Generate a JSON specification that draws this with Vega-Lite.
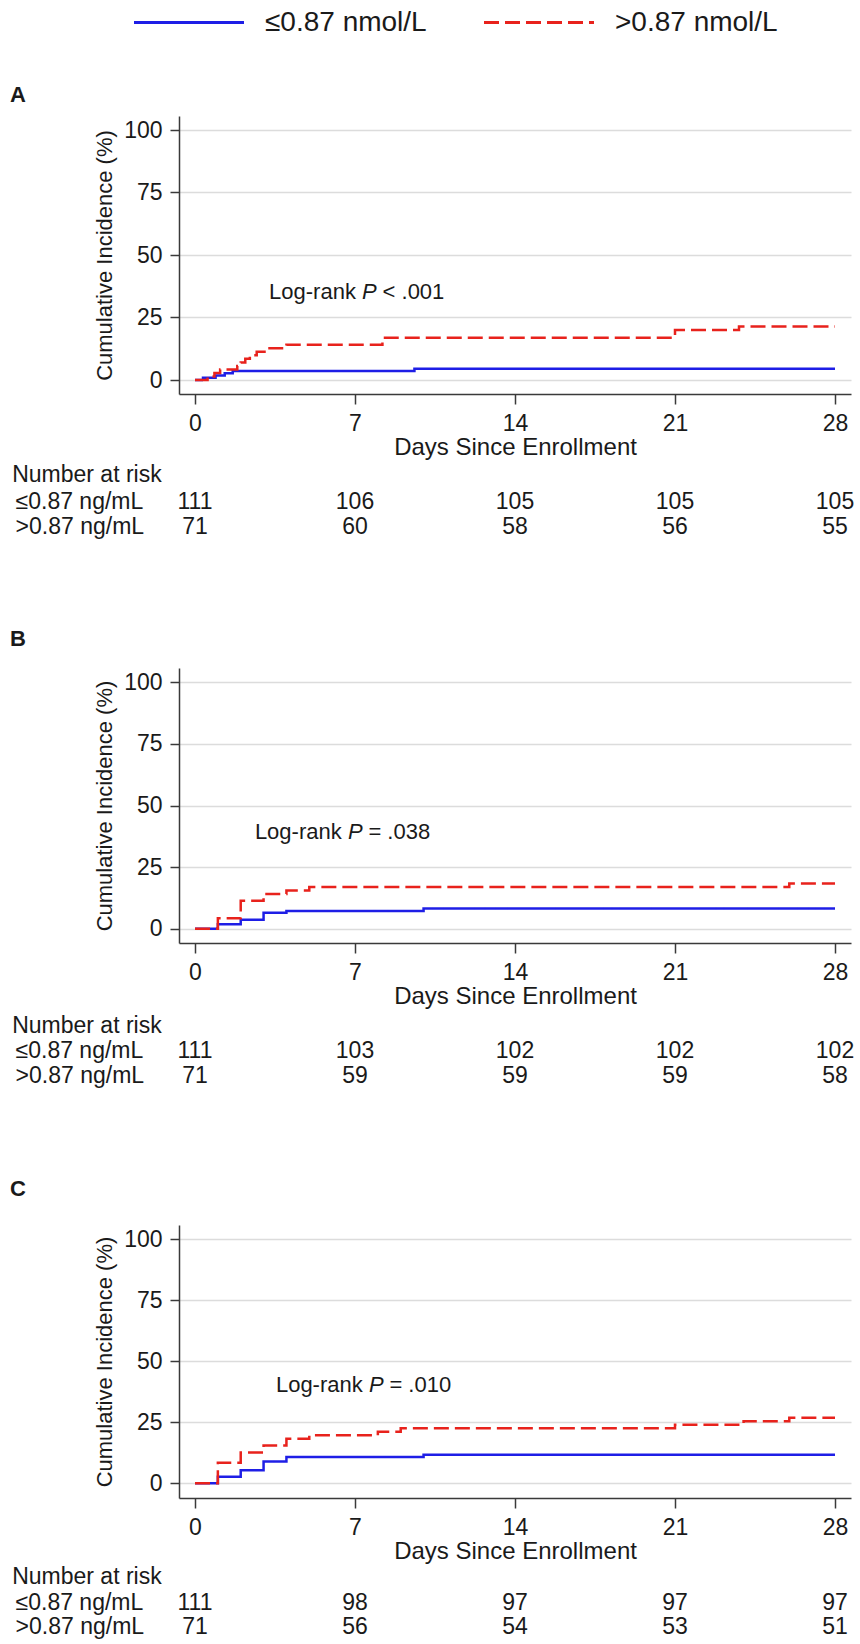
{
  "$schema": "https://vega.github.io/schema/vega-lite/v6.json",
  "padding": {"left": 10, "top": 8, "right": 0, "bottom": 0},
  "background": "white",
  "config": {
    "font": "Liberation Sans",
    "view": {"stroke": null},
    "axis": {
      "domainColor": "#3a3a3a", "domainWidth": 1.5,
      "tickColor": "#3a3a3a", "tickWidth": 1.5,
      "labelColor": "#1a1a1a", "titleColor": "#1a1a1a",
      "labelFont": "Liberation Sans", "titleFont": "Liberation Sans",
      "labelFontSize": 23, "titleFontSize": 23, "titleFontWeight": "normal"
    },
    "text": {"color": "#1a1a1a", "font": "Liberation Sans"}
  },
  "datasets": {
    "km": [
      {"panel": "A", "grp": "≤0.87 nmol/L", "t": 0, "v": 0},
      {"panel": "A", "grp": "≤0.87 nmol/L", "t": 0.35, "v": 0.9},
      {"panel": "A", "grp": "≤0.87 nmol/L", "t": 0.9, "v": 1.8},
      {"panel": "A", "grp": "≤0.87 nmol/L", "t": 1.3, "v": 2.7},
      {"panel": "A", "grp": "≤0.87 nmol/L", "t": 1.65, "v": 3.6},
      {"panel": "A", "grp": "≤0.87 nmol/L", "t": 9.6, "v": 4.5},
      {"panel": "A", "grp": "≤0.87 nmol/L", "t": 28, "v": 4.5},
      {"panel": "A", "grp": ">0.87 nmol/L", "t": 0, "v": 0},
      {"panel": "A", "grp": ">0.87 nmol/L", "t": 0.55, "v": 1.4},
      {"panel": "A", "grp": ">0.87 nmol/L", "t": 0.85, "v": 2.8},
      {"panel": "A", "grp": ">0.87 nmol/L", "t": 1.1, "v": 4.2},
      {"panel": "A", "grp": ">0.87 nmol/L", "t": 1.85, "v": 5.6},
      {"panel": "A", "grp": ">0.87 nmol/L", "t": 2.0, "v": 7.0},
      {"panel": "A", "grp": ">0.87 nmol/L", "t": 2.2, "v": 8.5},
      {"panel": "A", "grp": ">0.87 nmol/L", "t": 2.4, "v": 9.9},
      {"panel": "A", "grp": ">0.87 nmol/L", "t": 2.7, "v": 11.3},
      {"panel": "A", "grp": ">0.87 nmol/L", "t": 3.1, "v": 12.7},
      {"panel": "A", "grp": ">0.87 nmol/L", "t": 4.0, "v": 14.1},
      {"panel": "A", "grp": ">0.87 nmol/L", "t": 8.2, "v": 16.9},
      {"panel": "A", "grp": ">0.87 nmol/L", "t": 21.0, "v": 20.0},
      {"panel": "A", "grp": ">0.87 nmol/L", "t": 23.8, "v": 21.4},
      {"panel": "A", "grp": ">0.87 nmol/L", "t": 28, "v": 21.4},
      {"panel": "B", "grp": "≤0.87 nmol/L", "t": 0, "v": 0},
      {"panel": "B", "grp": "≤0.87 nmol/L", "t": 1, "v": 1.8},
      {"panel": "B", "grp": "≤0.87 nmol/L", "t": 2, "v": 3.6},
      {"panel": "B", "grp": "≤0.87 nmol/L", "t": 3, "v": 6.5},
      {"panel": "B", "grp": "≤0.87 nmol/L", "t": 4, "v": 7.2},
      {"panel": "B", "grp": "≤0.87 nmol/L", "t": 10, "v": 8.2},
      {"panel": "B", "grp": "≤0.87 nmol/L", "t": 28, "v": 8.2},
      {"panel": "B", "grp": ">0.87 nmol/L", "t": 0, "v": 0},
      {"panel": "B", "grp": ">0.87 nmol/L", "t": 1, "v": 4.2},
      {"panel": "B", "grp": ">0.87 nmol/L", "t": 2, "v": 11.3},
      {"panel": "B", "grp": ">0.87 nmol/L", "t": 3, "v": 14.1},
      {"panel": "B", "grp": ">0.87 nmol/L", "t": 4, "v": 15.5},
      {"panel": "B", "grp": ">0.87 nmol/L", "t": 5, "v": 16.9},
      {"panel": "B", "grp": ">0.87 nmol/L", "t": 26, "v": 18.3},
      {"panel": "B", "grp": ">0.87 nmol/L", "t": 28, "v": 18.3},
      {"panel": "C", "grp": "≤0.87 nmol/L", "t": 0, "v": 0},
      {"panel": "C", "grp": "≤0.87 nmol/L", "t": 1, "v": 2.7},
      {"panel": "C", "grp": "≤0.87 nmol/L", "t": 2, "v": 5.4},
      {"panel": "C", "grp": "≤0.87 nmol/L", "t": 3, "v": 9.0},
      {"panel": "C", "grp": "≤0.87 nmol/L", "t": 4, "v": 10.8},
      {"panel": "C", "grp": "≤0.87 nmol/L", "t": 10, "v": 11.7},
      {"panel": "C", "grp": "≤0.87 nmol/L", "t": 28, "v": 11.7},
      {"panel": "C", "grp": ">0.87 nmol/L", "t": 0, "v": 0},
      {"panel": "C", "grp": ">0.87 nmol/L", "t": 1, "v": 8.5},
      {"panel": "C", "grp": ">0.87 nmol/L", "t": 2, "v": 12.7},
      {"panel": "C", "grp": ">0.87 nmol/L", "t": 3, "v": 15.5},
      {"panel": "C", "grp": ">0.87 nmol/L", "t": 4, "v": 18.3},
      {"panel": "C", "grp": ">0.87 nmol/L", "t": 5, "v": 19.7},
      {"panel": "C", "grp": ">0.87 nmol/L", "t": 8, "v": 21.2},
      {"panel": "C", "grp": ">0.87 nmol/L", "t": 9, "v": 22.6},
      {"panel": "C", "grp": ">0.87 nmol/L", "t": 21, "v": 24.0},
      {"panel": "C", "grp": ">0.87 nmol/L", "t": 24, "v": 25.5},
      {"panel": "C", "grp": ">0.87 nmol/L", "t": 26, "v": 26.9},
      {"panel": "C", "grp": ">0.87 nmol/L", "t": 28, "v": 26.9}
    ],
    "risk": [
      {"panel": "A", "row": 1, "t": 0, "n": 111}, {"panel": "A", "row": 1, "t": 7, "n": 106}, {"panel": "A", "row": 1, "t": 14, "n": 105}, {"panel": "A", "row": 1, "t": 21, "n": 105}, {"panel": "A", "row": 1, "t": 28, "n": 105},
      {"panel": "A", "row": 2, "t": 0, "n": 71}, {"panel": "A", "row": 2, "t": 7, "n": 60}, {"panel": "A", "row": 2, "t": 14, "n": 58}, {"panel": "A", "row": 2, "t": 21, "n": 56}, {"panel": "A", "row": 2, "t": 28, "n": 55},
      {"panel": "B", "row": 1, "t": 0, "n": 111}, {"panel": "B", "row": 1, "t": 7, "n": 103}, {"panel": "B", "row": 1, "t": 14, "n": 102}, {"panel": "B", "row": 1, "t": 21, "n": 102}, {"panel": "B", "row": 1, "t": 28, "n": 102},
      {"panel": "B", "row": 2, "t": 0, "n": 71}, {"panel": "B", "row": 2, "t": 7, "n": 59}, {"panel": "B", "row": 2, "t": 14, "n": 59}, {"panel": "B", "row": 2, "t": 21, "n": 59}, {"panel": "B", "row": 2, "t": 28, "n": 58},
      {"panel": "C", "row": 1, "t": 0, "n": 111}, {"panel": "C", "row": 1, "t": 7, "n": 98}, {"panel": "C", "row": 1, "t": 14, "n": 97}, {"panel": "C", "row": 1, "t": 21, "n": 97}, {"panel": "C", "row": 1, "t": 28, "n": 97},
      {"panel": "C", "row": 2, "t": 0, "n": 71}, {"panel": "C", "row": 2, "t": 7, "n": 56}, {"panel": "C", "row": 2, "t": 14, "n": 54}, {"panel": "C", "row": 2, "t": 21, "n": 53}, {"panel": "C", "row": 2, "t": 28, "n": 51}
    ],
    "notes": [
      {"panel": "A", "letter": "A", "stat": "< .001"},
      {"panel": "B", "letter": "B", "stat": "= .038"},
      {"panel": "C", "letter": "C", "stat": "= .010"}
    ]
  },
  "resolve": {"legend": {"color": "independent", "strokeDash": "independent"}},
  "spacing": 88,
  "vconcat": [
    {
      "width": 672, "height": 278,
      "layer": [
        {
          "data": {"name": "km"}, "transform": [{"filter": "datum.panel === 'A'"}],
          "mark": {"type": "line", "interpolate": "step-after", "strokeWidth": 2.5},
          "encoding": {
            "x": {"field": "t", "type": "quantitative", "scale": {"domain": [-0.7, 28.7], "nice": false, "zero": false},
                  "axis": {"values": [0, 7, 14, 21, 28], "grid": false, "tickSize": 10, "labelPadding": 8, "titlePadding": 0, "title": "Days Since Enrollment", "titleFontSize": 24, "labelFlush": false}},
            "y": {"field": "v", "type": "quantitative", "scale": {"domain": [-5.6, 105.6], "nice": false, "zero": false},
                  "axis": {"values": [0, 25, 50, 75, 100], "grid": true, "gridColor": "#dcdcdc", "gridWidth": 1.5, "tickSize": 9, "labelPadding": 8, "titlePadding": 7, "title": "Cumulative Incidence (%)", "titleFontSize": 22}},
            "color": {"field": "grp", "type": "nominal", "scale": {"domain": ["≤0.87 nmol/L", ">0.87 nmol/L"], "range": ["#1e1ee6", "#e8221c"]},
                      "legend": {"orient": "none", "legendX": -4, "legendY": -107.5, "direction": "horizontal", "title": null, "symbolType": "M-5,0H5", "symbolSize": 484, "symbolStrokeWidth": 3, "labelFontSize": 28, "labelOffset": 62, "columnPadding": 51, "labelLimit": 400, "padding": 0, "labelColor": "#1a1a1a", "labelFont": "Liberation Sans"}},
            "strokeDash": {"field": "grp", "type": "nominal", "scale": {"domain": ["≤0.87 nmol/L", ">0.87 nmol/L"], "range": [[1, 0], [15, 6]]},
                      "legend": {"orient": "none", "legendX": -4, "legendY": -107.5, "direction": "horizontal", "title": null, "symbolType": "M-5,0H5", "symbolSize": 484, "symbolStrokeWidth": 3, "labelFontSize": 28, "labelOffset": 62, "columnPadding": 51, "labelLimit": 400, "padding": 0, "labelColor": "#1a1a1a", "labelFont": "Liberation Sans"}}
          }
        },
        {"data": {"name": "notes"}, "transform": [{"filter": "datum.panel === 'A'"}], "mark": {"type": "text", "fontWeight": "bold", "fontSize": 22, "align": "left", "baseline": "middle"}, "encoding": {"x": {"datum": -8.09}, "y": {"datum": 114}, "text": {"field": "letter"}}},
        {"data": {"name": "notes"}, "transform": [{"filter": "datum.panel === 'A'"}], "mark": {"type": "text", "text": "Log-rank", "fontSize": 22, "align": "left", "baseline": "middle"}, "encoding": {"x": {"datum": 3.24}, "y": {"datum": 35.2}}},
        {"data": {"name": "notes"}, "transform": [{"filter": "datum.panel === 'A'"}], "mark": {"type": "text", "text": "P", "fontStyle": "italic", "fontSize": 22, "align": "left", "baseline": "middle", "dx": 93}, "encoding": {"x": {"datum": 3.24}, "y": {"datum": 35.2}}},
        {"data": {"name": "notes"}, "transform": [{"filter": "datum.panel === 'A'"}], "mark": {"type": "text", "fontSize": 22, "align": "left", "baseline": "middle", "dx": 113.5}, "encoding": {"x": {"datum": 3.24}, "y": {"datum": 35.2}, "text": {"field": "stat"}}},
        {"data": {"name": "notes"}, "transform": [{"filter": "datum.panel === 'A'"}], "mark": {"type": "text", "text": "Number at risk", "fontSize": 23, "align": "left", "baseline": "middle"}, "encoding": {"x": {"datum": -8.0}, "y": {"datum": -38.0}}},
        {"data": {"name": "notes"}, "transform": [{"filter": "datum.panel === 'A'"}], "mark": {"type": "text", "text": "≤0.87 ng/mL", "fontSize": 23, "align": "left", "baseline": "middle"}, "encoding": {"x": {"datum": -7.85}, "y": {"datum": -48.8}}},
        {"data": {"name": "notes"}, "transform": [{"filter": "datum.panel === 'A'"}], "mark": {"type": "text", "text": ">0.87 ng/mL", "fontSize": 23, "align": "left", "baseline": "middle"}, "encoding": {"x": {"datum": -7.85}, "y": {"datum": -58.8}}},
        {"data": {"name": "risk"}, "transform": [{"filter": "datum.panel === 'A' && datum.row === 1"}], "mark": {"type": "text", "fontSize": 23, "align": "center", "baseline": "middle"}, "encoding": {"x": {"field": "t", "type": "quantitative"}, "y": {"datum": -48.8}, "text": {"field": "n"}}},
        {"data": {"name": "risk"}, "transform": [{"filter": "datum.panel === 'A' && datum.row === 2"}], "mark": {"type": "text", "fontSize": 23, "align": "center", "baseline": "middle"}, "encoding": {"x": {"field": "t", "type": "quantitative"}, "y": {"datum": -58.8}, "text": {"field": "n"}}}
      ]
    },
    {
      "width": 672, "height": 275,
      "layer": [
        {
          "data": {"name": "km"}, "transform": [{"filter": "datum.panel === 'B'"}],
          "mark": {"type": "line", "interpolate": "step-after", "strokeWidth": 2.5},
          "encoding": {
            "x": {"field": "t", "type": "quantitative", "scale": {"domain": [-0.7, 28.7], "nice": false, "zero": false},
                  "axis": {"values": [0, 7, 14, 21, 28], "grid": false, "tickSize": 10, "labelPadding": 8, "titlePadding": 0, "title": "Days Since Enrollment", "titleFontSize": 24, "labelFlush": false}},
            "y": {"field": "v", "type": "quantitative", "scale": {"domain": [-5.8, 105.8], "nice": false, "zero": false},
                  "axis": {"values": [0, 25, 50, 75, 100], "grid": true, "gridColor": "#dcdcdc", "gridWidth": 1.5, "tickSize": 9, "labelPadding": 8, "titlePadding": 7, "title": "Cumulative Incidence (%)", "titleFontSize": 22}},
            "color": {"field": "grp", "type": "nominal", "scale": {"domain": ["≤0.87 nmol/L", ">0.87 nmol/L"], "range": ["#1e1ee6", "#e8221c"]}, "legend": null},
            "strokeDash": {"field": "grp", "type": "nominal", "scale": {"domain": ["≤0.87 nmol/L", ">0.87 nmol/L"], "range": [[1, 0], [15, 6]]}, "legend": null}
          }
        },
        {"data": {"name": "notes"}, "transform": [{"filter": "datum.panel === 'B'"}], "mark": {"type": "text", "fontWeight": "bold", "fontSize": 22, "align": "left", "baseline": "middle"}, "encoding": {"x": {"datum": -8.09}, "y": {"datum": 117.4}, "text": {"field": "letter"}}},
        {"data": {"name": "notes"}, "transform": [{"filter": "datum.panel === 'B'"}], "mark": {"type": "text", "text": "Log-rank", "fontSize": 22, "align": "left", "baseline": "middle"}, "encoding": {"x": {"datum": 2.62}, "y": {"datum": 39.2}}},
        {"data": {"name": "notes"}, "transform": [{"filter": "datum.panel === 'B'"}], "mark": {"type": "text", "text": "P", "fontStyle": "italic", "fontSize": 22, "align": "left", "baseline": "middle", "dx": 93}, "encoding": {"x": {"datum": 2.62}, "y": {"datum": 39.2}}},
        {"data": {"name": "notes"}, "transform": [{"filter": "datum.panel === 'B'"}], "mark": {"type": "text", "fontSize": 22, "align": "left", "baseline": "middle", "dx": 113.5}, "encoding": {"x": {"datum": 2.62}, "y": {"datum": 39.2}, "text": {"field": "stat"}}},
        {"data": {"name": "notes"}, "transform": [{"filter": "datum.panel === 'B'"}], "mark": {"type": "text", "text": "Number at risk", "fontSize": 23, "align": "left", "baseline": "middle"}, "encoding": {"x": {"datum": -8.0}, "y": {"datum": -39.5}}},
        {"data": {"name": "notes"}, "transform": [{"filter": "datum.panel === 'B'"}], "mark": {"type": "text", "text": "≤0.87 ng/mL", "fontSize": 23, "align": "left", "baseline": "middle"}, "encoding": {"x": {"datum": -7.85}, "y": {"datum": -49.7}}},
        {"data": {"name": "notes"}, "transform": [{"filter": "datum.panel === 'B'"}], "mark": {"type": "text", "text": ">0.87 ng/mL", "fontSize": 23, "align": "left", "baseline": "middle"}, "encoding": {"x": {"datum": -7.85}, "y": {"datum": -59.8}}},
        {"data": {"name": "risk"}, "transform": [{"filter": "datum.panel === 'B' && datum.row === 1"}], "mark": {"type": "text", "fontSize": 23, "align": "center", "baseline": "middle"}, "encoding": {"x": {"field": "t", "type": "quantitative"}, "y": {"datum": -49.7}, "text": {"field": "n"}}},
        {"data": {"name": "risk"}, "transform": [{"filter": "datum.panel === 'B' && datum.row === 2"}], "mark": {"type": "text", "fontSize": 23, "align": "center", "baseline": "middle"}, "encoding": {"x": {"field": "t", "type": "quantitative"}, "y": {"datum": -59.8}, "text": {"field": "n"}}}
      ]
    },
    {
      "width": 672, "height": 273,
      "layer": [
        {
          "data": {"name": "km"}, "transform": [{"filter": "datum.panel === 'C'"}],
          "mark": {"type": "line", "interpolate": "step-after", "strokeWidth": 2.5},
          "encoding": {
            "x": {"field": "t", "type": "quantitative", "scale": {"domain": [-0.7, 28.7], "nice": false, "zero": false},
                  "axis": {"values": [0, 7, 14, 21, 28], "grid": false, "tickSize": 10, "labelPadding": 8, "titlePadding": 0, "title": "Days Since Enrollment", "titleFontSize": 24, "labelFlush": false}},
            "y": {"field": "v", "type": "quantitative", "scale": {"domain": [-6.0, 105.9], "nice": false, "zero": false},
                  "axis": {"values": [0, 25, 50, 75, 100], "grid": true, "gridColor": "#dcdcdc", "gridWidth": 1.5, "tickSize": 9, "labelPadding": 8, "titlePadding": 7, "title": "Cumulative Incidence (%)", "titleFontSize": 22}},
            "color": {"field": "grp", "type": "nominal", "scale": {"domain": ["≤0.87 nmol/L", ">0.87 nmol/L"], "range": ["#1e1ee6", "#e8221c"]}, "legend": null},
            "strokeDash": {"field": "grp", "type": "nominal", "scale": {"domain": ["≤0.87 nmol/L", ">0.87 nmol/L"], "range": [[1, 0], [15, 6]]}, "legend": null}
          }
        },
        {"data": {"name": "notes"}, "transform": [{"filter": "datum.panel === 'C'"}], "mark": {"type": "text", "fontWeight": "bold", "fontSize": 22, "align": "left", "baseline": "middle"}, "encoding": {"x": {"datum": -8.09}, "y": {"datum": 120.7}, "text": {"field": "letter"}}},
        {"data": {"name": "notes"}, "transform": [{"filter": "datum.panel === 'C'"}], "mark": {"type": "text", "text": "Log-rank", "fontSize": 22, "align": "left", "baseline": "middle"}, "encoding": {"x": {"datum": 3.54}, "y": {"datum": 40.3}}},
        {"data": {"name": "notes"}, "transform": [{"filter": "datum.panel === 'C'"}], "mark": {"type": "text", "text": "P", "fontStyle": "italic", "fontSize": 22, "align": "left", "baseline": "middle", "dx": 93}, "encoding": {"x": {"datum": 3.54}, "y": {"datum": 40.3}}},
        {"data": {"name": "notes"}, "transform": [{"filter": "datum.panel === 'C'"}], "mark": {"type": "text", "fontSize": 22, "align": "left", "baseline": "middle", "dx": 113.5}, "encoding": {"x": {"datum": 3.54}, "y": {"datum": 40.3}, "text": {"field": "stat"}}},
        {"data": {"name": "notes"}, "transform": [{"filter": "datum.panel === 'C'"}], "mark": {"type": "text", "text": "Number at risk", "fontSize": 23, "align": "left", "baseline": "middle"}, "encoding": {"x": {"datum": -8.0}, "y": {"datum": -38.4}}},
        {"data": {"name": "notes"}, "transform": [{"filter": "datum.panel === 'C'"}], "mark": {"type": "text", "text": "≤0.87 ng/mL", "fontSize": 23, "align": "left", "baseline": "middle"}, "encoding": {"x": {"datum": -7.85}, "y": {"datum": -49.0}}},
        {"data": {"name": "notes"}, "transform": [{"filter": "datum.panel === 'C'"}], "mark": {"type": "text", "text": ">0.87 ng/mL", "fontSize": 23, "align": "left", "baseline": "middle"}, "encoding": {"x": {"datum": -7.85}, "y": {"datum": -58.9}}},
        {"data": {"name": "risk"}, "transform": [{"filter": "datum.panel === 'C' && datum.row === 1"}], "mark": {"type": "text", "fontSize": 23, "align": "center", "baseline": "middle"}, "encoding": {"x": {"field": "t", "type": "quantitative"}, "y": {"datum": -49.0}, "text": {"field": "n"}}},
        {"data": {"name": "risk"}, "transform": [{"filter": "datum.panel === 'C' && datum.row === 2"}], "mark": {"type": "text", "fontSize": 23, "align": "center", "baseline": "middle"}, "encoding": {"x": {"field": "t", "type": "quantitative"}, "y": {"datum": -58.9}, "text": {"field": "n"}}}
      ]
    }
  ]
}
